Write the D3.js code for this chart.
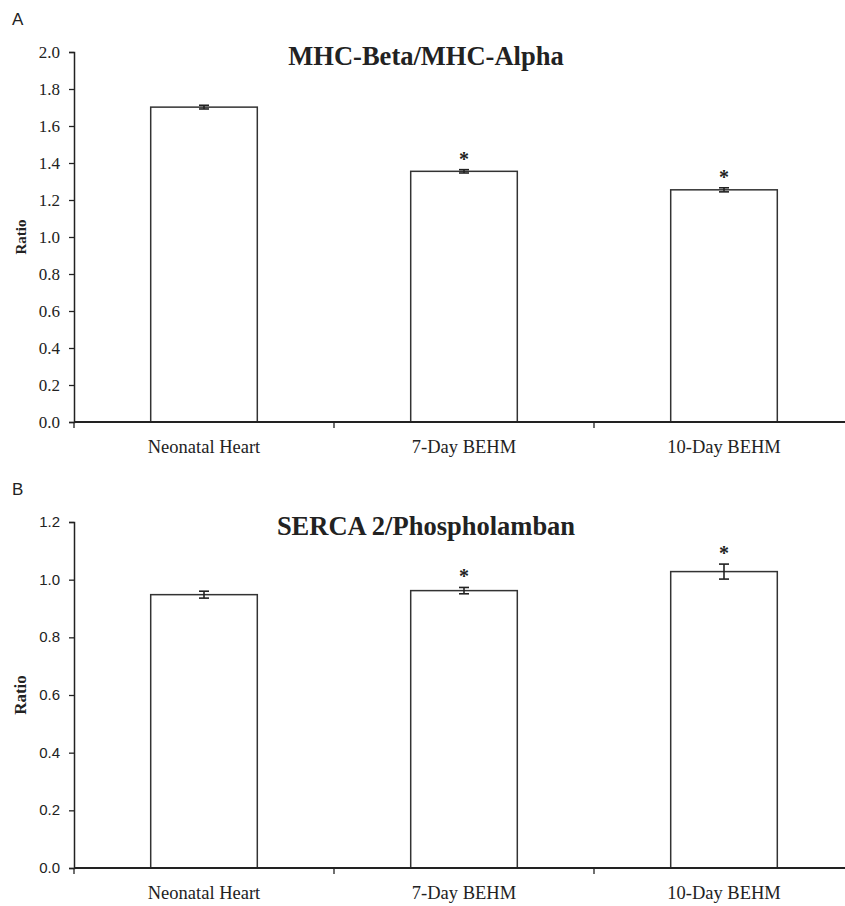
<!DOCTYPE html>
<html lang="en">
<head>
  <meta charset="UTF-8">
  <title>MHC and SERCA ratios</title>
  <style>
    body { margin: 0; background: #fff; }
    svg text { fill: #222; }
  </style>
</head>
<body>
<div id="chart"></div>
<script src="https://d3js.org/d3.v7.min.js"></script>
<script>
  // data
  var categories = ["Neonatal Heart", "7-Day BEHM", "10-Day BEHM"];
  var mhcValues = [1.702, 1.355, 1.255];
  var mhcErrors = [0.010, 0.009, 0.011];
  var mhcSignif = [false, true, true];
  var mhcTicks = [0, 0.2, 0.4, 0.6, 0.8, 1.0, 1.2, 1.4, 1.6, 1.8, 2.0];
  var sercaValues = [0.948, 0.962, 1.028];
  var sercaErrors = [0.012, 0.011, 0.026];
  var sercaSignif = [false, true, true];
  var sercaTicks = [0, 0.2, 0.4, 0.6, 0.8, 1.0, 1.2];

  var SERIF = "Liberation Serif";
  var SANS = "Liberation Sans";

  var W = 845, H = 906;
  var svg = d3.select("#chart").append("svg")
    .attr("width", W).attr("height", H);

  var x = d3.scaleBand()
    .domain(categories)
    .range([74, 854])
    .paddingInner(0.59)
    .paddingOuter(0.295);

  function panel(opt) {
    var g = svg.append("g");
    var y = d3.scaleLinear().domain(opt.domain).range([opt.bottom, opt.top]);
    var rows = opt.values.map((v, i) => ({cat: categories[i], v: v, e: opt.errors[i], sig: opt.signif[i]}));

    // panel letter
    g.append("text")
      .style("font-family", SANS)
      .attr("x", 12).attr("y", opt.top - 27)
      .attr("font-size", 17)
      .text(opt.letter);

    // title
    g.append("text")
      .style("font-family", SERIF)
      .attr("x", 426).attr("y", opt.top + 13)
      .attr("text-anchor", "middle")
      .attr("font-size", 26.5).attr("font-weight", "bold")
      .text(opt.title);

    // y axis label
    g.append("text")
      .style("font-family", SERIF)
      .attr("transform", "translate(26," + ((opt.top + opt.bottom) / 2) + ") rotate(-90)")
      .attr("text-anchor", "middle")
      .attr("font-size", opt.ratioSize).attr("font-weight", "bold")
      .text("Ratio");

    // bars
    g.selectAll("rect.bar").data(rows).join("rect")
      .attr("class", "bar")
      .attr("x", d => x(d.cat))
      .attr("width", x.bandwidth())
      .attr("y", d => y(d.v))
      .attr("height", d => y(0) - y(d.v))
      .attr("fill", "#fff")
      .attr("stroke", "#333")
      .attr("stroke-width", 1.5);

    // error bars
    var eb = g.selectAll("g.err").data(rows).join("g")
      .attr("class", "err")
      .attr("transform", d => "translate(" + (x(d.cat) + x.bandwidth() / 2) + ",0)")
      .attr("stroke", "#222").attr("stroke-width", 1.6);
    eb.append("line")
      .attr("y1", d => y(d.v - d.e))
      .attr("y2", d => y(d.v + d.e));
    eb.append("line").attr("x1", -5).attr("x2", 5)
      .attr("y1", d => y(d.v - d.e))
      .attr("y2", d => y(d.v - d.e));
    eb.append("line").attr("x1", -5).attr("x2", 5)
      .attr("y1", d => y(d.v + d.e))
      .attr("y2", d => y(d.v + d.e));

    // significance stars
    g.selectAll("text.star").data(rows.filter(d => d.sig)).join("text")
      .attr("class", "star")
      .style("font-family", SERIF)
      .attr("x", d => x(d.cat) + x.bandwidth() / 2)
      .attr("y", d => y(d.v + d.e) - 4)
      .attr("text-anchor", "middle")
      .attr("font-size", 20).attr("font-weight", "bold")
      .text("*");

    // y axis: line and tick marks from d3.axisLeft, labels drawn separately
    var ya = g.append("g")
      .attr("transform", "translate(74,0)")
      .call(d3.axisLeft(y).tickValues(opt.ticks).tickFormat("").tickSize(5));
    ya.select(".domain").attr("stroke", "#222").attr("stroke-width", 1.5);
    ya.selectAll(".tick line").attr("stroke", "#222").attr("stroke-width", 1.3);
    g.selectAll("text.ytick").data(opt.ticks).join("text")
      .attr("class", "ytick")
      .style("font-family", opt.tickFont)
      .style("font-size", opt.tickSize + "px")
      .attr("x", 60)
      .attr("y", d => y(d))
      .attr("dy", "0.34em")
      .attr("text-anchor", "end")
      .text(d3.format(".1f"));

    // x axis
    g.append("line")
      .attr("x1", 74).attr("x2", W)
      .attr("y1", y(0)).attr("y2", y(0))
      .attr("stroke", "#222").attr("stroke-width", 2);
    var half = x.step() * x.paddingInner() / 2;
    var bounds = [74, x(categories[1]) - half, x(categories[2]) - half];
    g.selectAll("line.xt").data(bounds).join("line")
      .attr("class", "xt")
      .attr("x1", d => d).attr("x2", d => d)
      .attr("y1", y(0)).attr("y2", y(0) + 6)
      .attr("stroke", "#222").attr("stroke-width", 1.3);
    g.selectAll("text.cat").data(categories).join("text")
      .attr("class", "cat")
      .style("font-family", SERIF)
      .attr("x", d => x(d) + x.bandwidth() / 2)
      .attr("y", y(0) + 31)
      .attr("text-anchor", "middle")
      .attr("font-size", 18.5)
      .text(d => d);
  }

  panel({
    letter: "A", title: "MHC-Beta/MHC-Alpha",
    domain: [0, 2.0], top: 52, bottom: 422,
    values: mhcValues, errors: mhcErrors, signif: mhcSignif, ticks: mhcTicks,
    tickFont: SERIF, tickSize: 17, ratioSize: 15
  });

  panel({
    letter: "B", title: "SERCA 2/Phospholamban",
    domain: [0, 1.2], top: 522, bottom: 868,
    values: sercaValues, errors: sercaErrors, signif: sercaSignif, ticks: sercaTicks,
    tickFont: SANS, tickSize: 15, ratioSize: 17
  });
</script>
</body>
</html>
